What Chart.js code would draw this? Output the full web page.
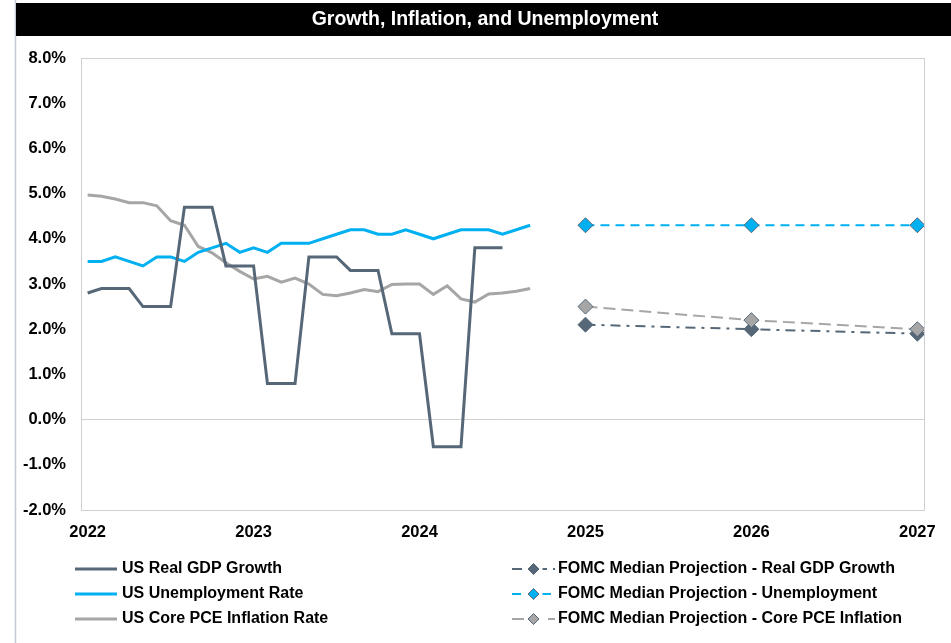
<!DOCTYPE html>
<html>
<head>
<meta charset="utf-8">
<title>Growth, Inflation, and Unemployment</title>
<script src="https://cdn.jsdelivr.net/npm/chart.js@4.4.0/dist/chart.umd.min.js"></script>
<style>
  html, body { margin: 0; padding: 0; background: #fff; }
  #wrap { width: 951px; height: 643px; }
</style>
</head>
<body>
<div id="wrap"><canvas id="chart" width="951" height="643"></canvas></div>
<script>
// x axis tick labels and y axis ticks
const years = [2022, 2023, 2024, 2025, 2026, 2027];
const yTicks = [-2, -1, 0, 1, 2, 3, 4, 5, 6, 7, 8];

// monthly history, starting Jan 2022 (%)
const gdp = [2.8, 2.9, 2.9, 2.9, 2.5, 2.5, 2.5, 4.7, 4.7, 4.7, 3.4, 3.4, 3.4,
  0.8, 0.8, 0.8, 3.6, 3.6, 3.6, 3.3, 3.3, 3.3, 1.9, 1.9, 1.9,
  -0.6, -0.6, -0.6, 3.8, 3.8, 3.8];
const unemployment = [3.5, 3.5, 3.6, 3.5, 3.4, 3.6, 3.6, 3.5, 3.7, 3.8, 3.9, 3.7,
  3.8, 3.7, 3.9, 3.9, 3.9, 4.0, 4.1, 4.2, 4.2, 4.1, 4.1, 4.2,
  4.1, 4.0, 4.1, 4.2, 4.2, 4.2, 4.1, 4.2, 4.3];
const corePce = [4.97, 4.94, 4.88, 4.8, 4.8, 4.73, 4.4, 4.3, 3.83, 3.69, 3.47, 3.28,
  3.11, 3.17, 3.04, 3.13, 3.0, 2.77, 2.74, 2.8, 2.88, 2.83, 2.99, 3.0,
  3.0, 2.77, 2.96, 2.67, 2.6, 2.78, 2.8, 2.84, 2.9];

// FOMC median projections
const projYears = [2025, 2026, 2027];
const projGdp = [2.1, 2.0, 1.9];
const projUnemployment = [4.3, 4.3, 4.3];
const projCorePce = [2.5, 2.2, 2.0];

const SLATE = '#566878';
const BLUE = '#00b0f0';
const GRAY = '#a6a6a6';
const FONT = '"Liberation Sans", Arial, sans-serif';

function monthly(values) {
  return values.map((v, i) => ({ x: 2022 + i / 12, y: v }));
}
function yearly(values) {
  return values.map((v, i) => ({ x: projYears[i], y: v }));
}

function projection(label, values, color, dash) {
  return {
    label: label,
    data: yearly(values),
    borderColor: color,
    borderWidth: 2,
    borderDash: dash,
    pointStyle: 'rectRot',
    pointRadius: 7.5,
    pointBackgroundColor: color,
    pointBorderColor: SLATE,
    pointBorderWidth: 1,
    legendColumn: 1
  };
}

function history(label, values, color) {
  return {
    label: label,
    data: monthly(values),
    borderColor: color,
    borderWidth: 3,
    pointRadius: 0,
    legendColumn: 0
  };
}

// draws the frame, title bar and plot box
const framePlugin = {
  id: 'frame',
  beforeDraw(chart) {
    const ctx = chart.ctx;
    ctx.save();
    ctx.fillStyle = '#fff';
    ctx.fillRect(0, 0, chart.width, chart.height);
    ctx.strokeStyle = '#c3cad2';
    ctx.lineWidth = 1.5;
    ctx.beginPath();
    ctx.moveTo(15.5, 0);
    ctx.lineTo(15.5, chart.height);
    ctx.stroke();
    ctx.fillStyle = '#000';
    ctx.fillRect(16, 3, chart.width - 16, 33);
    ctx.fillStyle = '#fff';
    ctx.font = 'bold 19.5px ' + FONT;
    ctx.textAlign = 'center';
    ctx.textBaseline = 'middle';
    ctx.fillText('Growth, Inflation, and Unemployment', 485, 20);
    ctx.restore();
  },
  beforeDatasetsDraw(chart) {
    const a = chart.chartArea;
    const ctx = chart.ctx;
    ctx.save();
    ctx.strokeStyle = '#d0d0d0';
    ctx.lineWidth = 1;
    ctx.strokeRect(Math.round(a.left) + 0.5, Math.round(a.top) + 0.5,
      Math.round(a.right - a.left), Math.round(a.bottom - a.top));
    ctx.restore();
  }
};

// two-column legend under the plot
const legendPlugin = {
  id: 'twoColLegend',
  afterDraw(chart) {
    const ctx = chart.ctx;
    const rows = [569, 594, 619];
    const cols = [
      { x0: 75, x1: 117, tx: 122 },
      { x0: 512, x1: 555, tx: 558 }
    ];
    const count = [0, 0];
    ctx.save();
    ctx.font = 'bold 16px ' + FONT;
    ctx.textBaseline = 'middle';
    ctx.textAlign = 'left';
    chart.data.datasets.slice().sort((a, b) => a.legendRank - b.legendRank).forEach(ds => {
      const c = cols[ds.legendColumn];
      const y = rows[count[ds.legendColumn]++];
      ctx.strokeStyle = ds.borderColor;
      ctx.lineWidth = ds.borderWidth;
      ctx.setLineDash(ds.borderDash || []);
      ctx.beginPath();
      ctx.moveTo(c.x0, y);
      ctx.lineTo(c.x1, y);
      ctx.stroke();
      ctx.setLineDash([]);
      if (ds.pointStyle === 'rectRot') {
        const mx = (c.x0 + c.x1) / 2, r = 5.5;
        ctx.fillStyle = '#fff';
        ctx.fillRect(mx - 9, y - 3, 18, 6);
        ctx.beginPath();
        ctx.moveTo(mx - r, y);
        ctx.lineTo(mx, y - r);
        ctx.lineTo(mx + r, y);
        ctx.lineTo(mx, y + r);
        ctx.closePath();
        ctx.fillStyle = ds.pointBackgroundColor;
        ctx.fill();
        ctx.strokeStyle = ds.pointBorderColor;
        ctx.lineWidth = 1;
        ctx.stroke();
      }
      ctx.fillStyle = '#000';
      ctx.fillText(ds.label, c.tx, y);
    });
    ctx.restore();
  }
};

const datasets = [
  Object.assign(projection('FOMC Median Projection - Core PCE Inflation', projCorePce, GRAY, [12, 6]), { legendRank: 5 }),
  Object.assign(projection('FOMC Median Projection - Unemployment', projUnemployment, BLUE, [9, 6]), { legendRank: 4 }),
  Object.assign(projection('FOMC Median Projection - Real GDP Growth', projGdp, SLATE, [10, 6, 3, 6]), { legendRank: 3 }),
  Object.assign(history('US Real GDP Growth', gdp, SLATE), { legendRank: 0 }),
  Object.assign(history('US Unemployment Rate', unemployment, BLUE), { legendRank: 1 }),
  Object.assign(history('US Core PCE Inflation Rate', corePce, GRAY), { legendRank: 2 })
];

const tickFont = { family: FONT, size: 16.5, weight: 'bold' };

new Chart(document.getElementById('chart').getContext('2d'), {
  type: 'line',
  data: { datasets: datasets },
  options: {
    responsive: false,
    animation: false,
    devicePixelRatio: 1,
    layout: { autoPadding: false, padding: { left: 0, top: 58, right: 27, bottom: 103 } },
    plugins: {
      legend: { display: false },
      tooltip: { enabled: false },
      title: { display: false }
    },
    elements: { line: { tension: 0, fill: false } },
    scales: {
      x: {
        type: 'linear',
        min: 2021.96,
        max: 2027.04,
        afterBuildTicks: s => { s.ticks = years.map(v => ({ value: v })); },
        afterFit: s => { s.height = 30; },
        grid: { display: false, drawTicks: false },
        border: { display: false },
        ticks: {
          padding: 13,
          color: '#000',
          font: tickFont,
          maxRotation: 0,
          autoSkip: false,
          callback: v => String(v)
        }
      },
      y: {
        min: -2,
        max: 8,
        afterBuildTicks: s => { s.ticks = yTicks.map(v => ({ value: v })); },
        afterFit: s => { s.width = 81; },
        grid: {
          drawTicks: false,
          color: c => (c.tick && c.tick.value === 0 ? '#d0d0d0' : 'rgba(0,0,0,0)')
        },
        border: { display: false },
        ticks: {
          padding: 15,
          color: '#000',
          font: tickFont,
          callback: v => v.toFixed(1) + '%'
        }
      }
    }
  },
  plugins: [framePlugin, legendPlugin]
});
</script>
</body>
</html>
